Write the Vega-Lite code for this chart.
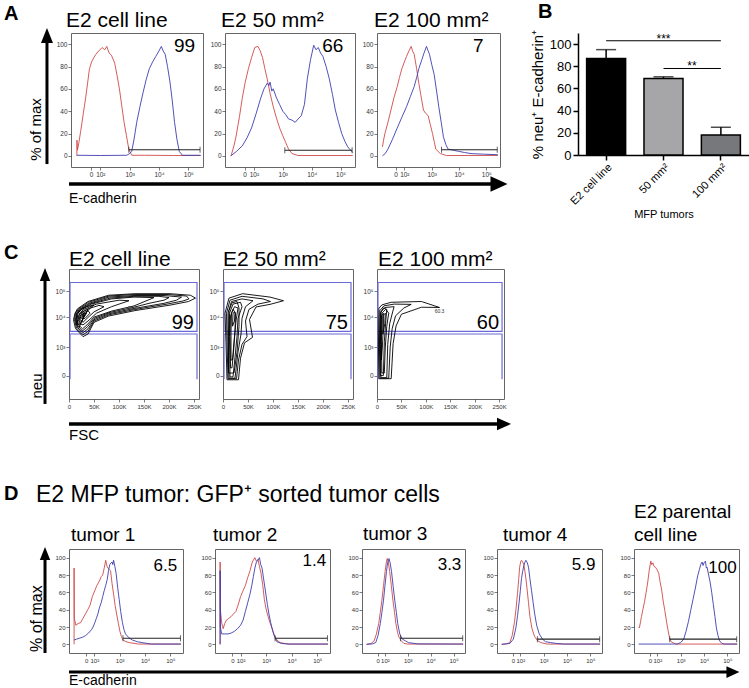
{
"$schema":"https://vega.github.io/schema/vega-lite/v6.json",
"padding":{"top":2,"left":0,"right":0,"bottom":0},
"background":"white",
"config":{
 "font":"Liberation Sans",
 "view":{"stroke":"#666","strokeWidth":1},
 "title":{"font":"Liberation Sans","fontWeight":"normal","color":"#000","fontSize":21,"baseline":"alphabetic","anchor":"start","frame":"group"},
 "axis":{"labelFont":"Liberation Sans","titleFont":"Liberation Sans","grid":false,"labelOverlap":false,"labelSeparation":-100},
 "text":{"font":"Liberation Sans"}
},
"datasets":{
"none":[],
"hist":[
{"p":"A1","c":"r","x":1.2,"y":0},{"p":"A1","c":"r","x":1.202,"y":14},{"p":"A1","c":"r","x":1.22,"y":5},{"p":"A1","c":"r","x":1.27,"y":12},{"p":"A1","c":"r","x":1.33,"y":22},{"p":"A1","c":"r","x":1.42,"y":38},{"p":"A1","c":"r","x":1.5,"y":52},{"p":"A1","c":"r","x":1.57,"y":66},{"p":"A1","c":"r","x":1.63,"y":78},{"p":"A1","c":"r","x":1.7,"y":84},{"p":"A1","c":"r","x":1.78,"y":88},{"p":"A1","c":"r","x":1.85,"y":91},{"p":"A1","c":"r","x":1.95,"y":94},{"p":"A1","c":"r","x":2.06,"y":97},{"p":"A1","c":"r","x":2.15,"y":95},{"p":"A1","c":"r","x":2.22,"y":98},{"p":"A1","c":"r","x":2.3,"y":92},{"p":"A1","c":"r","x":2.38,"y":90},{"p":"A1","c":"r","x":2.49,"y":83},{"p":"A1","c":"r","x":2.57,"y":72},{"p":"A1","c":"r","x":2.65,"y":60},{"p":"A1","c":"r","x":2.73,"y":45},{"p":"A1","c":"r","x":2.81,"y":30},{"p":"A1","c":"r","x":2.89,"y":18},{"p":"A1","c":"r","x":2.97,"y":6},{"p":"A1","c":"r","x":3.07,"y":0.5},{"p":"A1","c":"r","x":3.5,"y":0.5},{"p":"A1","c":"r","x":4.5,"y":0.3},{"p":"A1","c":"r","x":5.42,"y":0.3},
{"p":"A1","c":"b","x":1.2,"y":0.5},{"p":"A1","c":"b","x":2.0,"y":0.3},{"p":"A1","c":"b","x":2.9,"y":0.5},{"p":"A1","c":"b","x":3.0,"y":2},{"p":"A1","c":"b","x":3.07,"y":4},{"p":"A1","c":"b","x":3.15,"y":15},{"p":"A1","c":"b","x":3.24,"y":30},{"p":"A1","c":"b","x":3.35,"y":44},{"p":"A1","c":"b","x":3.46,"y":57},{"p":"A1","c":"b","x":3.56,"y":68},{"p":"A1","c":"b","x":3.67,"y":78},{"p":"A1","c":"b","x":3.78,"y":84},{"p":"A1","c":"b","x":3.89,"y":89},{"p":"A1","c":"b","x":3.98,"y":93},{"p":"A1","c":"b","x":4.08,"y":98},{"p":"A1","c":"b","x":4.14,"y":94},{"p":"A1","c":"b","x":4.21,"y":91},{"p":"A1","c":"b","x":4.29,"y":80},{"p":"A1","c":"b","x":4.37,"y":67},{"p":"A1","c":"b","x":4.45,"y":50},{"p":"A1","c":"b","x":4.53,"y":30},{"p":"A1","c":"b","x":4.61,"y":15},{"p":"A1","c":"b","x":4.69,"y":4},{"p":"A1","c":"b","x":4.8,"y":0.5},{"p":"A1","c":"b","x":5.42,"y":0.5},
{"p":"A2","c":"r","x":1.2,"y":0},{"p":"A2","c":"r","x":1.22,"y":1},{"p":"A2","c":"r","x":1.3,"y":8},{"p":"A2","c":"r","x":1.38,"y":17},{"p":"A2","c":"r","x":1.5,"y":35},{"p":"A2","c":"r","x":1.6,"y":52},{"p":"A2","c":"r","x":1.7,"y":66},{"p":"A2","c":"r","x":1.81,"y":78},{"p":"A2","c":"r","x":1.92,"y":88},{"p":"A2","c":"r","x":2.03,"y":97},{"p":"A2","c":"r","x":2.14,"y":98},{"p":"A2","c":"r","x":2.22,"y":94},{"p":"A2","c":"r","x":2.3,"y":88},{"p":"A2","c":"r","x":2.38,"y":78},{"p":"A2","c":"r","x":2.46,"y":69},{"p":"A2","c":"r","x":2.56,"y":56},{"p":"A2","c":"r","x":2.67,"y":44},{"p":"A2","c":"r","x":2.78,"y":34},{"p":"A2","c":"r","x":2.89,"y":25},{"p":"A2","c":"r","x":3.0,"y":18},{"p":"A2","c":"r","x":3.1,"y":12},{"p":"A2","c":"r","x":3.2,"y":6},{"p":"A2","c":"r","x":3.32,"y":2},{"p":"A2","c":"r","x":3.53,"y":0.3},{"p":"A2","c":"r","x":5.42,"y":0.3},
{"p":"A2","c":"b","x":1.2,"y":0},{"p":"A2","c":"b","x":1.4,"y":4},{"p":"A2","c":"b","x":1.6,"y":9},{"p":"A2","c":"b","x":1.76,"y":16},{"p":"A2","c":"b","x":1.92,"y":25},{"p":"A2","c":"b","x":2.08,"y":38},{"p":"A2","c":"b","x":2.24,"y":52},{"p":"A2","c":"b","x":2.35,"y":60},{"p":"A2","c":"b","x":2.46,"y":65},{"p":"A2","c":"b","x":2.52,"y":63},{"p":"A2","c":"b","x":2.56,"y":66},{"p":"A2","c":"b","x":2.62,"y":58},{"p":"A2","c":"b","x":2.67,"y":60},{"p":"A2","c":"b","x":2.78,"y":52},{"p":"A2","c":"b","x":2.89,"y":46},{"p":"A2","c":"b","x":3.0,"y":40},{"p":"A2","c":"b","x":3.1,"y":37},{"p":"A2","c":"b","x":3.2,"y":33},{"p":"A2","c":"b","x":3.32,"y":32},{"p":"A2","c":"b","x":3.43,"y":30},{"p":"A2","c":"b","x":3.53,"y":33},{"p":"A2","c":"b","x":3.64,"y":36},{"p":"A2","c":"b","x":3.75,"y":46},{"p":"A2","c":"b","x":3.85,"y":69},{"p":"A2","c":"b","x":3.96,"y":86},{"p":"A2","c":"b","x":4.07,"y":99},{"p":"A2","c":"b","x":4.15,"y":95},{"p":"A2","c":"b","x":4.23,"y":97},{"p":"A2","c":"b","x":4.31,"y":92},{"p":"A2","c":"b","x":4.39,"y":89},{"p":"A2","c":"b","x":4.5,"y":80},{"p":"A2","c":"b","x":4.61,"y":69},{"p":"A2","c":"b","x":4.72,"y":55},{"p":"A2","c":"b","x":4.82,"y":41},{"p":"A2","c":"b","x":4.93,"y":30},{"p":"A2","c":"b","x":5.04,"y":20},{"p":"A2","c":"b","x":5.15,"y":13},{"p":"A2","c":"b","x":5.25,"y":8},{"p":"A2","c":"b","x":5.35,"y":5},{"p":"A2","c":"b","x":5.42,"y":3},
{"p":"A3","c":"r","x":1.2,"y":8},{"p":"A3","c":"r","x":1.24,"y":14},{"p":"A3","c":"r","x":1.29,"y":20},{"p":"A3","c":"r","x":1.4,"y":30},{"p":"A3","c":"r","x":1.51,"y":41},{"p":"A3","c":"r","x":1.62,"y":52},{"p":"A3","c":"r","x":1.74,"y":62},{"p":"A3","c":"r","x":1.82,"y":70},{"p":"A3","c":"r","x":1.91,"y":78},{"p":"A3","c":"r","x":2.0,"y":84},{"p":"A3","c":"r","x":2.08,"y":89},{"p":"A3","c":"r","x":2.17,"y":94},{"p":"A3","c":"r","x":2.25,"y":98},{"p":"A3","c":"r","x":2.3,"y":94},{"p":"A3","c":"r","x":2.36,"y":91},{"p":"A3","c":"r","x":2.45,"y":78},{"p":"A3","c":"r","x":2.53,"y":65},{"p":"A3","c":"r","x":2.6,"y":55},{"p":"A3","c":"r","x":2.7,"y":41},{"p":"A3","c":"r","x":2.78,"y":38},{"p":"A3","c":"r","x":2.87,"y":36},{"p":"A3","c":"r","x":2.95,"y":28},{"p":"A3","c":"r","x":3.03,"y":20},{"p":"A3","c":"r","x":3.1,"y":12},{"p":"A3","c":"r","x":3.15,"y":6},{"p":"A3","c":"r","x":3.32,"y":2},{"p":"A3","c":"r","x":3.54,"y":0.3},{"p":"A3","c":"r","x":5.42,"y":0.3},
{"p":"A3","c":"b","x":1.2,"y":0},{"p":"A3","c":"b","x":1.3,"y":2},{"p":"A3","c":"b","x":1.4,"y":6},{"p":"A3","c":"b","x":1.57,"y":15},{"p":"A3","c":"b","x":1.74,"y":25},{"p":"A3","c":"b","x":1.9,"y":34},{"p":"A3","c":"b","x":2.08,"y":44},{"p":"A3","c":"b","x":2.22,"y":53},{"p":"A3","c":"b","x":2.36,"y":62},{"p":"A3","c":"b","x":2.45,"y":70},{"p":"A3","c":"b","x":2.53,"y":78},{"p":"A3","c":"b","x":2.64,"y":86},{"p":"A3","c":"b","x":2.72,"y":92},{"p":"A3","c":"b","x":2.81,"y":98},{"p":"A3","c":"b","x":2.87,"y":94},{"p":"A3","c":"b","x":2.92,"y":91},{"p":"A3","c":"b","x":3.0,"y":82},{"p":"A3","c":"b","x":3.09,"y":73},{"p":"A3","c":"b","x":3.18,"y":58},{"p":"A3","c":"b","x":3.26,"y":44},{"p":"A3","c":"b","x":3.35,"y":30},{"p":"A3","c":"b","x":3.43,"y":17},{"p":"A3","c":"b","x":3.52,"y":10},{"p":"A3","c":"b","x":3.6,"y":6},{"p":"A3","c":"b","x":3.8,"y":5},{"p":"A3","c":"b","x":3.99,"y":4},{"p":"A3","c":"b","x":4.2,"y":3},{"p":"A3","c":"b","x":4.44,"y":2},{"p":"A3","c":"b","x":4.9,"y":1.5},{"p":"A3","c":"b","x":5.42,"y":1},
{"p":"D1","c":"r","x":1.2,"y":0},{"p":"D1","c":"r","x":1.201,"y":88},{"p":"D1","c":"r","x":1.21,"y":30},{"p":"D1","c":"r","x":1.27,"y":22},{"p":"D1","c":"r","x":1.36,"y":24},{"p":"D1","c":"r","x":1.46,"y":25},{"p":"D1","c":"r","x":1.55,"y":30},{"p":"D1","c":"r","x":1.65,"y":35},{"p":"D1","c":"r","x":1.74,"y":40},{"p":"D1","c":"r","x":1.83,"y":45},{"p":"D1","c":"r","x":1.92,"y":55},{"p":"D1","c":"r","x":2.02,"y":62},{"p":"D1","c":"r","x":2.1,"y":68},{"p":"D1","c":"r","x":2.2,"y":73},{"p":"D1","c":"r","x":2.27,"y":78},{"p":"D1","c":"r","x":2.33,"y":80},{"p":"D1","c":"r","x":2.39,"y":88},{"p":"D1","c":"r","x":2.45,"y":97},{"p":"D1","c":"r","x":2.5,"y":90},{"p":"D1","c":"r","x":2.54,"y":88},{"p":"D1","c":"r","x":2.6,"y":86},{"p":"D1","c":"r","x":2.64,"y":85},{"p":"D1","c":"r","x":2.7,"y":70},{"p":"D1","c":"r","x":2.76,"y":58},{"p":"D1","c":"r","x":2.82,"y":45},{"p":"D1","c":"r","x":2.88,"y":35},{"p":"D1","c":"r","x":2.95,"y":24},{"p":"D1","c":"r","x":3.01,"y":15},{"p":"D1","c":"r","x":3.07,"y":9},{"p":"D1","c":"r","x":3.13,"y":5},{"p":"D1","c":"r","x":3.25,"y":3},{"p":"D1","c":"r","x":3.38,"y":2},{"p":"D1","c":"r","x":3.75,"y":0.3},{"p":"D1","c":"r","x":5.42,"y":0.3},
{"p":"D1","c":"b","x":1.2,"y":5},{"p":"D1","c":"b","x":1.3,"y":6},{"p":"D1","c":"b","x":1.4,"y":7},{"p":"D1","c":"b","x":1.52,"y":8},{"p":"D1","c":"b","x":1.65,"y":10},{"p":"D1","c":"b","x":1.77,"y":13},{"p":"D1","c":"b","x":1.89,"y":17},{"p":"D1","c":"b","x":1.95,"y":20},{"p":"D1","c":"b","x":2.02,"y":25},{"p":"D1","c":"b","x":2.08,"y":30},{"p":"D1","c":"b","x":2.14,"y":35},{"p":"D1","c":"b","x":2.2,"y":42},{"p":"D1","c":"b","x":2.27,"y":48},{"p":"D1","c":"b","x":2.33,"y":55},{"p":"D1","c":"b","x":2.39,"y":62},{"p":"D1","c":"b","x":2.45,"y":68},{"p":"D1","c":"b","x":2.51,"y":75},{"p":"D1","c":"b","x":2.56,"y":85},{"p":"D1","c":"b","x":2.61,"y":92},{"p":"D1","c":"b","x":2.66,"y":94},{"p":"D1","c":"b","x":2.7,"y":95},{"p":"D1","c":"b","x":2.73,"y":92},{"p":"D1","c":"b","x":2.76,"y":97},{"p":"D1","c":"b","x":2.81,"y":90},{"p":"D1","c":"b","x":2.86,"y":82},{"p":"D1","c":"b","x":2.92,"y":66},{"p":"D1","c":"b","x":2.98,"y":52},{"p":"D1","c":"b","x":3.04,"y":38},{"p":"D1","c":"b","x":3.11,"y":25},{"p":"D1","c":"b","x":3.17,"y":17},{"p":"D1","c":"b","x":3.23,"y":12},{"p":"D1","c":"b","x":3.35,"y":8},{"p":"D1","c":"b","x":3.5,"y":5},{"p":"D1","c":"b","x":3.7,"y":3},{"p":"D1","c":"b","x":3.88,"y":2},{"p":"D1","c":"b","x":4.25,"y":0.3},{"p":"D1","c":"b","x":5.42,"y":0.3},
{"p":"D2","c":"r","x":1.2,"y":0},{"p":"D2","c":"r","x":1.201,"y":95},{"p":"D2","c":"r","x":1.21,"y":40},{"p":"D2","c":"r","x":1.26,"y":25},{"p":"D2","c":"r","x":1.32,"y":18},{"p":"D2","c":"r","x":1.38,"y":24},{"p":"D2","c":"r","x":1.45,"y":28},{"p":"D2","c":"r","x":1.54,"y":30},{"p":"D2","c":"r","x":1.63,"y":32},{"p":"D2","c":"r","x":1.72,"y":35},{"p":"D2","c":"r","x":1.82,"y":38},{"p":"D2","c":"r","x":1.9,"y":45},{"p":"D2","c":"r","x":2.0,"y":55},{"p":"D2","c":"r","x":2.1,"y":62},{"p":"D2","c":"r","x":2.19,"y":68},{"p":"D2","c":"r","x":2.28,"y":77},{"p":"D2","c":"r","x":2.37,"y":85},{"p":"D2","c":"r","x":2.46,"y":95},{"p":"D2","c":"r","x":2.56,"y":100},{"p":"D2","c":"r","x":2.62,"y":96},{"p":"D2","c":"r","x":2.68,"y":98},{"p":"D2","c":"r","x":2.74,"y":90},{"p":"D2","c":"r","x":2.8,"y":82},{"p":"D2","c":"r","x":2.87,"y":68},{"p":"D2","c":"r","x":2.93,"y":52},{"p":"D2","c":"r","x":2.99,"y":42},{"p":"D2","c":"r","x":3.05,"y":35},{"p":"D2","c":"r","x":3.15,"y":25},{"p":"D2","c":"r","x":3.24,"y":18},{"p":"D2","c":"r","x":3.33,"y":10},{"p":"D2","c":"r","x":3.42,"y":5},{"p":"D2","c":"r","x":3.55,"y":2},{"p":"D2","c":"r","x":3.73,"y":1},{"p":"D2","c":"r","x":3.9,"y":0.3},{"p":"D2","c":"r","x":5.42,"y":0.3},
{"p":"D2","c":"b","x":1.2,"y":0},{"p":"D2","c":"b","x":1.201,"y":85},{"p":"D2","c":"b","x":1.21,"y":20},{"p":"D2","c":"b","x":1.26,"y":12},{"p":"D2","c":"b","x":1.38,"y":12},{"p":"D2","c":"b","x":1.51,"y":12},{"p":"D2","c":"b","x":1.63,"y":13},{"p":"D2","c":"b","x":1.76,"y":15},{"p":"D2","c":"b","x":1.88,"y":18},{"p":"D2","c":"b","x":2.0,"y":22},{"p":"D2","c":"b","x":2.1,"y":28},{"p":"D2","c":"b","x":2.19,"y":38},{"p":"D2","c":"b","x":2.28,"y":48},{"p":"D2","c":"b","x":2.37,"y":58},{"p":"D2","c":"b","x":2.44,"y":68},{"p":"D2","c":"b","x":2.5,"y":78},{"p":"D2","c":"b","x":2.56,"y":88},{"p":"D2","c":"b","x":2.62,"y":95},{"p":"D2","c":"b","x":2.68,"y":97},{"p":"D2","c":"b","x":2.74,"y":100},{"p":"D2","c":"b","x":2.79,"y":92},{"p":"D2","c":"b","x":2.84,"y":88},{"p":"D2","c":"b","x":2.92,"y":72},{"p":"D2","c":"b","x":2.99,"y":58},{"p":"D2","c":"b","x":3.05,"y":46},{"p":"D2","c":"b","x":3.11,"y":35},{"p":"D2","c":"b","x":3.18,"y":25},{"p":"D2","c":"b","x":3.26,"y":15},{"p":"D2","c":"b","x":3.34,"y":8},{"p":"D2","c":"b","x":3.42,"y":3},{"p":"D2","c":"b","x":3.6,"y":1},{"p":"D2","c":"b","x":3.86,"y":0.3},{"p":"D2","c":"b","x":5.42,"y":0.3},
{"p":"D3","c":"r","x":1.2,"y":0},{"p":"D3","c":"r","x":1.4,"y":1},{"p":"D3","c":"r","x":1.53,"y":4},{"p":"D3","c":"r","x":1.63,"y":12},{"p":"D3","c":"r","x":1.73,"y":24},{"p":"D3","c":"r","x":1.8,"y":37},{"p":"D3","c":"r","x":1.87,"y":51},{"p":"D3","c":"r","x":1.94,"y":68},{"p":"D3","c":"r","x":2.01,"y":84},{"p":"D3","c":"r","x":2.06,"y":94},{"p":"D3","c":"r","x":2.1,"y":99},{"p":"D3","c":"r","x":2.15,"y":95},{"p":"D3","c":"r","x":2.21,"y":84},{"p":"D3","c":"r","x":2.28,"y":68},{"p":"D3","c":"r","x":2.35,"y":51},{"p":"D3","c":"r","x":2.42,"y":37},{"p":"D3","c":"r","x":2.48,"y":24},{"p":"D3","c":"r","x":2.55,"y":14},{"p":"D3","c":"r","x":2.62,"y":8},{"p":"D3","c":"r","x":2.72,"y":4},{"p":"D3","c":"r","x":2.83,"y":1},{"p":"D3","c":"r","x":3.0,"y":0.3},{"p":"D3","c":"r","x":5.42,"y":0.3},
{"p":"D3","c":"b","x":1.2,"y":0},{"p":"D3","c":"b","x":1.45,"y":0.5},{"p":"D3","c":"b","x":1.6,"y":2},{"p":"D3","c":"b","x":1.7,"y":10},{"p":"D3","c":"b","x":1.8,"y":24},{"p":"D3","c":"b","x":1.87,"y":37},{"p":"D3","c":"b","x":1.94,"y":51},{"p":"D3","c":"b","x":2.0,"y":67},{"p":"D3","c":"b","x":2.07,"y":84},{"p":"D3","c":"b","x":2.12,"y":94},{"p":"D3","c":"b","x":2.18,"y":99},{"p":"D3","c":"b","x":2.23,"y":94},{"p":"D3","c":"b","x":2.29,"y":84},{"p":"D3","c":"b","x":2.36,"y":67},{"p":"D3","c":"b","x":2.43,"y":51},{"p":"D3","c":"b","x":2.5,"y":37},{"p":"D3","c":"b","x":2.56,"y":24},{"p":"D3","c":"b","x":2.65,"y":12},{"p":"D3","c":"b","x":2.76,"y":6},{"p":"D3","c":"b","x":2.9,"y":4},{"p":"D3","c":"b","x":3.03,"y":2},{"p":"D3","c":"b","x":3.44,"y":0.5},{"p":"D3","c":"b","x":5.42,"y":0.3},
{"p":"D4","c":"r","x":1.2,"y":0},{"p":"D4","c":"r","x":1.4,"y":0.5},{"p":"D4","c":"r","x":1.55,"y":2},{"p":"D4","c":"r","x":1.65,"y":10},{"p":"D4","c":"r","x":1.75,"y":26},{"p":"D4","c":"r","x":1.82,"y":42},{"p":"D4","c":"r","x":1.88,"y":59},{"p":"D4","c":"r","x":1.93,"y":75},{"p":"D4","c":"r","x":1.97,"y":89},{"p":"D4","c":"r","x":2.02,"y":96},{"p":"D4","c":"r","x":2.05,"y":97},{"p":"D4","c":"r","x":2.1,"y":95},{"p":"D4","c":"r","x":2.15,"y":92},{"p":"D4","c":"r","x":2.22,"y":80},{"p":"D4","c":"r","x":2.28,"y":66},{"p":"D4","c":"r","x":2.35,"y":48},{"p":"D4","c":"r","x":2.41,"y":32},{"p":"D4","c":"r","x":2.5,"y":18},{"p":"D4","c":"r","x":2.61,"y":9},{"p":"D4","c":"r","x":2.75,"y":4},{"p":"D4","c":"r","x":2.88,"y":2},{"p":"D4","c":"r","x":3.15,"y":0.3},{"p":"D4","c":"r","x":5.42,"y":0.3},
{"p":"D4","c":"b","x":1.2,"y":0},{"p":"D4","c":"b","x":1.55,"y":1},{"p":"D4","c":"b","x":1.7,"y":6},{"p":"D4","c":"b","x":1.81,"y":19},{"p":"D4","c":"b","x":1.88,"y":33},{"p":"D4","c":"b","x":1.95,"y":49},{"p":"D4","c":"b","x":2.0,"y":62},{"p":"D4","c":"b","x":2.05,"y":76},{"p":"D4","c":"b","x":2.1,"y":84},{"p":"D4","c":"b","x":2.15,"y":91},{"p":"D4","c":"b","x":2.2,"y":95},{"p":"D4","c":"b","x":2.24,"y":97},{"p":"D4","c":"b","x":2.3,"y":94},{"p":"D4","c":"b","x":2.35,"y":89},{"p":"D4","c":"b","x":2.41,"y":76},{"p":"D4","c":"b","x":2.48,"y":62},{"p":"D4","c":"b","x":2.55,"y":48},{"p":"D4","c":"b","x":2.61,"y":36},{"p":"D4","c":"b","x":2.7,"y":22},{"p":"D4","c":"b","x":2.81,"y":12},{"p":"D4","c":"b","x":2.95,"y":6},{"p":"D4","c":"b","x":3.08,"y":3},{"p":"D4","c":"b","x":3.3,"y":2},{"p":"D4","c":"b","x":3.55,"y":1},{"p":"D4","c":"b","x":3.9,"y":0.3},{"p":"D4","c":"b","x":5.42,"y":0.3},
{"p":"D5","c":"r","x":1.2,"y":20},{"p":"D5","c":"r","x":1.23,"y":19},{"p":"D5","c":"r","x":1.28,"y":26},{"p":"D5","c":"r","x":1.32,"y":32},{"p":"D5","c":"r","x":1.38,"y":40},{"p":"D5","c":"r","x":1.45,"y":49},{"p":"D5","c":"r","x":1.52,"y":60},{"p":"D5","c":"r","x":1.59,"y":72},{"p":"D5","c":"r","x":1.65,"y":85},{"p":"D5","c":"r","x":1.72,"y":96},{"p":"D5","c":"r","x":1.76,"y":92},{"p":"D5","c":"r","x":1.81,"y":94},{"p":"D5","c":"r","x":1.86,"y":90},{"p":"D5","c":"r","x":1.92,"y":89},{"p":"D5","c":"r","x":1.99,"y":86},{"p":"D5","c":"r","x":2.06,"y":82},{"p":"D5","c":"r","x":2.12,"y":72},{"p":"D5","c":"r","x":2.19,"y":62},{"p":"D5","c":"r","x":2.25,"y":50},{"p":"D5","c":"r","x":2.32,"y":39},{"p":"D5","c":"r","x":2.39,"y":27},{"p":"D5","c":"r","x":2.46,"y":16},{"p":"D5","c":"r","x":2.52,"y":8},{"p":"D5","c":"r","x":2.59,"y":3},{"p":"D5","c":"r","x":2.79,"y":0.3},{"p":"D5","c":"r","x":5.42,"y":0.3},
{"p":"D5","c":"b","x":1.2,"y":0.3},{"p":"D5","c":"b","x":2.7,"y":0.3},{"p":"D5","c":"b","x":2.86,"y":0.5},{"p":"D5","c":"b","x":3.0,"y":2},{"p":"D5","c":"b","x":3.13,"y":6},{"p":"D5","c":"b","x":3.23,"y":15},{"p":"D5","c":"b","x":3.33,"y":26},{"p":"D5","c":"b","x":3.43,"y":39},{"p":"D5","c":"b","x":3.53,"y":52},{"p":"D5","c":"b","x":3.63,"y":65},{"p":"D5","c":"b","x":3.73,"y":79},{"p":"D5","c":"b","x":3.8,"y":86},{"p":"D5","c":"b","x":3.86,"y":92},{"p":"D5","c":"b","x":3.92,"y":95},{"p":"D5","c":"b","x":3.96,"y":91},{"p":"D5","c":"b","x":4.0,"y":94},{"p":"D5","c":"b","x":4.06,"y":96},{"p":"D5","c":"b","x":4.1,"y":88},{"p":"D5","c":"b","x":4.13,"y":89},{"p":"D5","c":"b","x":4.2,"y":80},{"p":"D5","c":"b","x":4.26,"y":72},{"p":"D5","c":"b","x":4.33,"y":60},{"p":"D5","c":"b","x":4.4,"y":46},{"p":"D5","c":"b","x":4.47,"y":32},{"p":"D5","c":"b","x":4.53,"y":19},{"p":"D5","c":"b","x":4.6,"y":10},{"p":"D5","c":"b","x":4.67,"y":4},{"p":"D5","c":"b","x":4.77,"y":1},{"p":"D5","c":"b","x":4.87,"y":0.3},{"p":"D5","c":"b","x":5.42,"y":0.3}
],
"gates":[
{"p":"A1","x1":2.97,"x2":5.4,"y":5.5},{"p":"A2","x1":3.07,"x2":5.4,"y":5},{"p":"A3","x1":3.36,"x2":5.4,"y":5.5},
{"p":"D1","x1":3.13,"x2":5.4,"y":7},{"p":"D2","x1":3.35,"x2":5.4,"y":7},{"p":"D3","x1":2.68,"x2":5.4,"y":7},{"p":"D4","x1":2.73,"x2":5.4,"y":6},{"p":"D5","x1":2.53,"x2":5.4,"y":6}
],
"nums":[
{"p":"A1","x":5.23,"y":92.9,"t":"99"},{"p":"A2","x":5.1,"y":92.9,"t":"66"},{"p":"A3","x":4.9,"y":92.9,"t":"7"},
{"p":"D1","x":5.27,"y":85,"t":"6.5"},{"p":"D2","x":5.35,"y":90,"t":"1.4"},{"p":"D3","x":5.34,"y":86,"t":"3.3"},{"p":"D4","x":5.22,"y":86,"t":"5.9"},{"p":"D5","x":5.4,"y":82,"t":"100"}
],
"gate2d":[
{"g":"up","x":2,"y":2.6},{"g":"up","x":2,"y":4.48},{"g":"up","x":256,"y":4.48},{"g":"up","x":256,"y":2.6},{"g":"up","x":2,"y":2.6},
{"g":"low","x":2,"y":0.76},{"g":"low","x":2,"y":2.5},{"g":"low","x":256,"y":2.5},{"g":"low","x":256,"y":0.76}
],
"cnums":[{"p":"C1","x":250,"y":2.68,"t":"99"},{"p":"C2","x":250,"y":2.68,"t":"75"},{"p":"C3","x":250,"y":2.68,"t":"60"}],
"csmall":[{"p":"C1","x":118,"y":3.5,"t":"99.5"},{"p":"C3","x":118,"y":3.39,"t":"60.3"}],
"cont":[
{"p":"C1","r":1,"x":9,"y":3.05},{"p":"C1","r":1,"x":12,"y":3.3},{"p":"C1","r":1,"x":17,"y":3.47},{"p":"C1","r":1,"x":38,"y":3.75},{"p":"C1","r":1,"x":79,"y":3.99},{"p":"C1","r":1,"x":132,"y":4.05},{"p":"C1","r":1,"x":202,"y":4.05},{"p":"C1","r":1,"x":243,"y":3.99},{"p":"C1","r":1,"x":253,"y":3.88},{"p":"C1","r":1,"x":239,"y":3.75},{"p":"C1","r":1,"x":202,"y":3.61},{"p":"C1","r":1,"x":132,"y":3.4},{"p":"C1","r":1,"x":79,"y":3.19},{"p":"C1","r":1,"x":50,"y":2.95},{"p":"C1","r":1,"x":38,"y":2.5},{"p":"C1","r":1,"x":28,"y":2.4},{"p":"C1","r":1,"x":13,"y":2.71},{"p":"C1","r":1,"x":9,"y":3.05},
{"p":"C1","r":11,"x":11,"y":3.05},{"p":"C1","r":11,"x":13,"y":3.3},{"p":"C1","r":11,"x":19,"y":3.46},{"p":"C1","r":11,"x":39,"y":3.72},{"p":"C1","r":11,"x":80,"y":3.96},{"p":"C1","r":11,"x":131,"y":4.02},{"p":"C1","r":11,"x":196,"y":4.02},{"p":"C1","r":11,"x":235,"y":3.96},{"p":"C1","r":11,"x":240,"y":3.85},{"p":"C1","r":11,"x":228,"y":3.77},{"p":"C1","r":11,"x":196,"y":3.65},{"p":"C1","r":11,"x":131,"y":3.44},{"p":"C1","r":11,"x":80,"y":3.24},{"p":"C1","r":11,"x":50,"y":3.0},{"p":"C1","r":11,"x":38,"y":2.6},{"p":"C1","r":11,"x":28,"y":2.47},{"p":"C1","r":11,"x":15,"y":2.73},{"p":"C1","r":11,"x":11,"y":3.05},
{"p":"C1","r":2,"x":13,"y":3.05},{"p":"C1","r":2,"x":15,"y":3.3},{"p":"C1","r":2,"x":21,"y":3.45},{"p":"C1","r":2,"x":40,"y":3.68},{"p":"C1","r":2,"x":80,"y":3.92},{"p":"C1","r":2,"x":130,"y":3.98},{"p":"C1","r":2,"x":190,"y":3.98},{"p":"C1","r":2,"x":225,"y":3.92},{"p":"C1","r":2,"x":215,"y":3.8},{"p":"C1","r":2,"x":190,"y":3.68},{"p":"C1","r":2,"x":130,"y":3.48},{"p":"C1","r":2,"x":80,"y":3.28},{"p":"C1","r":2,"x":50,"y":3.05},{"p":"C1","r":2,"x":38,"y":2.7},{"p":"C1","r":2,"x":28,"y":2.55},{"p":"C1","r":2,"x":17,"y":2.75},{"p":"C1","r":2,"x":13,"y":3.05},
{"p":"C1","r":12,"x":14,"y":3.05},{"p":"C1","r":12,"x":16,"y":3.3},{"p":"C1","r":12,"x":23,"y":3.45},{"p":"C1","r":12,"x":42,"y":3.66},{"p":"C1","r":12,"x":82,"y":3.88},{"p":"C1","r":12,"x":130,"y":3.95},{"p":"C1","r":12,"x":180,"y":3.95},{"p":"C1","r":12,"x":200,"y":3.9},{"p":"C1","r":12,"x":190,"y":3.8},{"p":"C1","r":12,"x":160,"y":3.68},{"p":"C1","r":12,"x":130,"y":3.53},{"p":"C1","r":12,"x":82,"y":3.33},{"p":"C1","r":12,"x":50,"y":3.1},{"p":"C1","r":12,"x":37,"y":2.78},{"p":"C1","r":12,"x":27,"y":2.62},{"p":"C1","r":12,"x":18,"y":2.8},{"p":"C1","r":12,"x":14,"y":3.05},
{"p":"C1","r":3,"x":16,"y":3.05},{"p":"C1","r":3,"x":18,"y":3.3},{"p":"C1","r":3,"x":25,"y":3.45},{"p":"C1","r":3,"x":45,"y":3.65},{"p":"C1","r":3,"x":85,"y":3.85},{"p":"C1","r":3,"x":130,"y":3.92},{"p":"C1","r":3,"x":170,"y":3.9},{"p":"C1","r":3,"x":130,"y":3.58},{"p":"C1","r":3,"x":85,"y":3.38},{"p":"C1","r":3,"x":50,"y":3.15},{"p":"C1","r":3,"x":36,"y":2.85},{"p":"C1","r":3,"x":27,"y":2.7},{"p":"C1","r":3,"x":19,"y":2.85},{"p":"C1","r":3,"x":16,"y":3.05},
{"p":"C1","r":4,"x":19,"y":3.05},{"p":"C1","r":4,"x":21,"y":3.3},{"p":"C1","r":4,"x":30,"y":3.45},{"p":"C1","r":4,"x":55,"y":3.65},{"p":"C1","r":4,"x":100,"y":3.8},{"p":"C1","r":4,"x":120,"y":3.78},{"p":"C1","r":4,"x":85,"y":3.55},{"p":"C1","r":4,"x":55,"y":3.3},{"p":"C1","r":4,"x":38,"y":3.0},{"p":"C1","r":4,"x":28,"y":2.85},{"p":"C1","r":4,"x":21,"y":2.9},{"p":"C1","r":4,"x":19,"y":3.05},
{"p":"C1","r":5,"x":22,"y":3.05},{"p":"C1","r":5,"x":25,"y":3.3},{"p":"C1","r":5,"x":35,"y":3.45},{"p":"C1","r":5,"x":60,"y":3.6},{"p":"C1","r":5,"x":70,"y":3.55},{"p":"C1","r":5,"x":50,"y":3.35},{"p":"C1","r":5,"x":36,"y":3.1},{"p":"C1","r":5,"x":28,"y":2.95},{"p":"C1","r":5,"x":22,"y":3.05},
{"p":"C1","r":6,"x":25,"y":3.1},{"p":"C1","r":6,"x":28,"y":3.3},{"p":"C1","r":6,"x":38,"y":3.4},{"p":"C1","r":6,"x":42,"y":3.3},{"p":"C1","r":6,"x":32,"y":3.1},{"p":"C1","r":6,"x":25,"y":3.1},
{"p":"C1","r":7,"x":27,"y":3.15},{"p":"C1","r":7,"x":30,"y":3.28},{"p":"C1","r":7,"x":35,"y":3.3},{"p":"C1","r":7,"x":31,"y":3.17},{"p":"C1","r":7,"x":27,"y":3.15},
{"p":"C1","r":8,"x":14,"y":3.0},{"p":"C1","r":8,"x":16,"y":3.25},{"p":"C1","r":8,"x":22,"y":3.4},{"p":"C1","r":8,"x":35,"y":3.55},{"p":"C1","r":8,"x":50,"y":3.62},{"p":"C1","r":8,"x":40,"y":3.45},{"p":"C1","r":8,"x":32,"y":3.25},{"p":"C1","r":8,"x":25,"y":2.95},{"p":"C1","r":8,"x":20,"y":2.75},{"p":"C1","r":8,"x":15,"y":2.85},{"p":"C1","r":8,"x":14,"y":3.0},
{"p":"C1","r":9,"x":17,"y":3.0},{"p":"C1","r":9,"x":19,"y":3.2},{"p":"C1","r":9,"x":26,"y":3.35},{"p":"C1","r":9,"x":38,"y":3.45},{"p":"C1","r":9,"x":32,"y":3.25},{"p":"C1","r":9,"x":26,"y":3.0},{"p":"C1","r":9,"x":21,"y":2.85},{"p":"C1","r":9,"x":17,"y":2.9},{"p":"C1","r":9,"x":17,"y":3.0},
{"p":"C1","r":10,"x":20,"y":3.0},{"p":"C1","r":10,"x":22,"y":3.2},{"p":"C1","r":10,"x":30,"y":3.3},{"p":"C1","r":10,"x":28,"y":3.1},{"p":"C1","r":10,"x":24,"y":2.95},{"p":"C1","r":10,"x":20,"y":3.0},
{"p":"C2","r":1,"x":8,"y":0.74},{"p":"C2","r":1,"x":6,"y":2.16},{"p":"C2","r":1,"x":4,"y":3.3},{"p":"C2","r":1,"x":12,"y":3.88},{"p":"C2","r":1,"x":39,"y":4.05},{"p":"C2","r":1,"x":94,"y":3.92},{"p":"C2","r":1,"x":121,"y":3.78},{"p":"C2","r":1,"x":94,"y":3.64},{"p":"C2","r":1,"x":66,"y":3.54},{"p":"C2","r":1,"x":53,"y":3.06},{"p":"C2","r":1,"x":59,"y":2.37},{"p":"C2","r":1,"x":43,"y":2.16},{"p":"C2","r":1,"x":35,"y":1.57},{"p":"C2","r":1,"x":31,"y":0.74},{"p":"C2","r":1,"x":8,"y":0.74},
{"p":"C2","r":2,"x":10,"y":0.78},{"p":"C2","r":2,"x":8,"y":2.2},{"p":"C2","r":2,"x":7,"y":3.3},{"p":"C2","r":2,"x":14,"y":3.8},{"p":"C2","r":2,"x":38,"y":3.95},{"p":"C2","r":2,"x":80,"y":3.85},{"p":"C2","r":2,"x":95,"y":3.75},{"p":"C2","r":2,"x":70,"y":3.65},{"p":"C2","r":2,"x":52,"y":3.45},{"p":"C2","r":2,"x":45,"y":3.0},{"p":"C2","r":2,"x":48,"y":2.4},{"p":"C2","r":2,"x":38,"y":2.1},{"p":"C2","r":2,"x":31,"y":1.5},{"p":"C2","r":2,"x":27,"y":0.78},{"p":"C2","r":2,"x":10,"y":0.78},
{"p":"C2","r":3,"x":12,"y":0.8},{"p":"C2","r":3,"x":10,"y":2.3},{"p":"C2","r":3,"x":10,"y":3.3},{"p":"C2","r":3,"x":17,"y":3.75},{"p":"C2","r":3,"x":38,"y":3.85},{"p":"C2","r":3,"x":60,"y":3.78},{"p":"C2","r":3,"x":45,"y":3.55},{"p":"C2","r":3,"x":38,"y":3.1},{"p":"C2","r":3,"x":36,"y":2.5},{"p":"C2","r":3,"x":30,"y":1.8},{"p":"C2","r":3,"x":24,"y":0.8},{"p":"C2","r":3,"x":12,"y":0.8},
{"p":"C2","r":4,"x":14,"y":0.85},{"p":"C2","r":4,"x":13,"y":2.4},{"p":"C2","r":4,"x":13,"y":3.3},{"p":"C2","r":4,"x":20,"y":3.65},{"p":"C2","r":4,"x":35,"y":3.72},{"p":"C2","r":4,"x":38,"y":3.55},{"p":"C2","r":4,"x":30,"y":3.1},{"p":"C2","r":4,"x":28,"y":2.4},{"p":"C2","r":4,"x":24,"y":1.6},{"p":"C2","r":4,"x":20,"y":0.85},{"p":"C2","r":4,"x":14,"y":0.85},
{"p":"C2","r":5,"x":16,"y":1.5},{"p":"C2","r":5,"x":16,"y":2.6},{"p":"C2","r":5,"x":17,"y":3.3},{"p":"C2","r":5,"x":23,"y":3.55},{"p":"C2","r":5,"x":30,"y":3.5},{"p":"C2","r":5,"x":26,"y":3.0},{"p":"C2","r":5,"x":22,"y":2.2},{"p":"C2","r":5,"x":19,"y":1.5},{"p":"C2","r":5,"x":16,"y":1.5},
{"p":"C2","r":6,"x":19,"y":2.8},{"p":"C2","r":6,"x":20,"y":3.3},{"p":"C2","r":6,"x":24,"y":3.35},{"p":"C2","r":6,"x":23,"y":3.0},{"p":"C2","r":6,"x":19,"y":2.8},
{"p":"C2","r":7,"x":11,"y":1.0},{"p":"C2","r":7,"x":11,"y":2.5},{"p":"C2","r":7,"x":12,"y":3.4},{"p":"C2","r":7,"x":18,"y":3.7},{"p":"C2","r":7,"x":28,"y":3.75},{"p":"C2","r":7,"x":32,"y":3.5},{"p":"C2","r":7,"x":32,"y":2.8},{"p":"C2","r":7,"x":28,"y":1.8},{"p":"C2","r":7,"x":22,"y":1.0},{"p":"C2","r":7,"x":11,"y":1.0},
{"p":"C2","r":8,"x":15,"y":1.2},{"p":"C2","r":8,"x":14,"y":2.5},{"p":"C2","r":8,"x":15,"y":3.2},{"p":"C2","r":8,"x":20,"y":3.45},{"p":"C2","r":8,"x":25,"y":3.3},{"p":"C2","r":8,"x":24,"y":2.6},{"p":"C2","r":8,"x":21,"y":1.8},{"p":"C2","r":8,"x":18,"y":1.2},{"p":"C2","r":8,"x":15,"y":1.2},
{"p":"C3","r":1,"x":4,"y":0.78},{"p":"C3","r":1,"x":3,"y":2.0},{"p":"C3","r":1,"x":4,"y":3.49},{"p":"C3","r":1,"x":10,"y":3.62},{"p":"C3","r":1,"x":29,"y":3.72},{"p":"C3","r":1,"x":91,"y":3.75},{"p":"C3","r":1,"x":128,"y":3.52},{"p":"C3","r":1,"x":91,"y":3.53},{"p":"C3","r":1,"x":50,"y":3.26},{"p":"C3","r":1,"x":39,"y":2.81},{"p":"C3","r":1,"x":33,"y":2.13},{"p":"C3","r":1,"x":29,"y":0.78},{"p":"C3","r":1,"x":4,"y":0.78},
{"p":"C3","r":2,"x":6,"y":0.8},{"p":"C3","r":2,"x":5,"y":2.0},{"p":"C3","r":2,"x":6,"y":3.4},{"p":"C3","r":2,"x":14,"y":3.58},{"p":"C3","r":2,"x":35,"y":3.65},{"p":"C3","r":2,"x":70,"y":3.64},{"p":"C3","r":2,"x":55,"y":3.5},{"p":"C3","r":2,"x":38,"y":3.2},{"p":"C3","r":2,"x":31,"y":2.7},{"p":"C3","r":2,"x":27,"y":2.0},{"p":"C3","r":2,"x":24,"y":0.8},{"p":"C3","r":2,"x":6,"y":0.8},
{"p":"C3","r":3,"x":8,"y":0.82},{"p":"C3","r":3,"x":7,"y":2.1},{"p":"C3","r":3,"x":8,"y":3.35},{"p":"C3","r":3,"x":16,"y":3.52},{"p":"C3","r":3,"x":35,"y":3.55},{"p":"C3","r":3,"x":32,"y":3.35},{"p":"C3","r":3,"x":26,"y":2.9},{"p":"C3","r":3,"x":22,"y":2.1},{"p":"C3","r":3,"x":20,"y":0.82},{"p":"C3","r":3,"x":8,"y":0.82},
{"p":"C3","r":4,"x":10,"y":1.0},{"p":"C3","r":4,"x":9,"y":2.2},{"p":"C3","r":4,"x":10,"y":3.3},{"p":"C3","r":4,"x":18,"y":3.45},{"p":"C3","r":4,"x":24,"y":3.3},{"p":"C3","r":4,"x":20,"y":2.8},{"p":"C3","r":4,"x":17,"y":2.0},{"p":"C3","r":4,"x":15,"y":1.0},{"p":"C3","r":4,"x":10,"y":1.0},
{"p":"C3","r":5,"x":12,"y":2.5},{"p":"C3","r":5,"x":12,"y":3.2},{"p":"C3","r":5,"x":17,"y":3.3},{"p":"C3","r":5,"x":16,"y":2.9},{"p":"C3","r":5,"x":12,"y":2.5},
{"p":"C3","r":6,"x":7,"y":0.9},{"p":"C3","r":6,"x":6,"y":2.3},{"p":"C3","r":6,"x":7,"y":3.3},{"p":"C3","r":6,"x":13,"y":3.5},{"p":"C3","r":6,"x":20,"y":3.45},{"p":"C3","r":6,"x":18,"y":3.0},{"p":"C3","r":6,"x":15,"y":2.2},{"p":"C3","r":6,"x":13,"y":0.9},{"p":"C3","r":6,"x":7,"y":0.9},
{"p":"C3","r":7,"x":9,"y":1.5},{"p":"C3","r":7,"x":8,"y":2.5},{"p":"C3","r":7,"x":9,"y":3.2},{"p":"C3","r":7,"x":13,"y":3.3},{"p":"C3","r":7,"x":13,"y":2.8},{"p":"C3","r":7,"x":11,"y":2.0},{"p":"C3","r":7,"x":9,"y":1.5}
]
},
"spacing":22,
"bounds":"full",
"vconcat":[
{"hconcat":[
{"width":56,"height":134,"view":{"stroke":"transparent"},
 "title":{"text":"A","fontWeight":"bold","fontSize":20,"dx":3,"offset":4},
 "layer":[
  {"data":{"values":[{"x":0.821,"x2":0.821,"y":0.022,"y2":0.95}]},"mark":{"type":"rule","strokeWidth":3,"color":"black"},"encoding":{"x":{"field":"x","type":"quantitative","scale":{"domain":[0,1]},"axis":null},"x2":{"field":"x2"},"y":{"field":"y","type":"quantitative","scale":{"domain":[0,1]},"axis":null},"y2":{"field":"y2"}}},
  {"data":{"values":[{"x":1.214,"x2":8.8,"y":-0.127,"y2":-0.127}]},"mark":{"type":"rule","strokeWidth":3.5,"color":"black"},"encoding":{"x":{"field":"x","type":"quantitative"},"x2":{"field":"x2"},"y":{"field":"y","type":"quantitative"},"y2":{"field":"y2"}}},
  {"data":{"values":[{"x":0.821,"y":0.981}]},"mark":{"type":"point","shape":"M-0.8,1L0,-1L0.8,1Z","filled":true,"color":"black","opacity":1,"size":225,"strokeWidth":0},"encoding":{"x":{"field":"x","type":"quantitative"},"y":{"field":"y","type":"quantitative"}}},
  {"data":{"values":[{"x":8.893,"y":-0.127}]},"mark":{"type":"point","shape":"M-1,-0.9L1,0L-1,0.9Z","filled":true,"color":"black","opacity":1,"size":289,"strokeWidth":0},"encoding":{"x":{"field":"x","type":"quantitative"},"y":{"field":"y","type":"quantitative"}}},
  {"data":{"values":[{"x":0.625,"y":0.28,"t":"% of max"}]},"mark":{"type":"text","angle":270,"fontSize":15,"align":"center","baseline":"middle"},"encoding":{"x":{"field":"x","type":"quantitative"},"y":{"field":"y","type":"quantitative"},"text":{"field":"t"}}},
  {"data":{"values":[{"x":1.214,"y":-0.239,"t":"E-cadherin"}]},"mark":{"type":"text","fontSize":14,"align":"left","baseline":"middle"},"encoding":{"x":{"field":"x","type":"quantitative"},"y":{"field":"y","type":"quantitative"},"text":{"field":"t"}}}
 ]},
{"width":14,"height":134,"view":{"stroke":null},"data":{"name":"none"},"mark":"point"},
{"width":132,"height":134,"title":{"text":"E2 cell line","dx":-5,"offset":2},
 "layer":[
  {"data":{"name":"hist"},"transform":[{"filter":"datum.p=='A1'"}],"mark":{"type":"line","strokeWidth":0.9},
   "encoding":{"x":{"field":"x","type":"quantitative","scale":{"domain":[1.2,5.42],"zero":false},"axis":{"values":[1.68,2,3,4,5],"tickCount":50,"labelExpr":"datum.value==1.68?'0':datum.value==2?'10²':datum.value==3?'10³':datum.value==4?'10⁴':'10⁵'","tickSize":3,"labelFontSize":6.5,"labelColor":"#333","tickColor":"#444","tickWidth":0.7,"domain":false,"title":null,"labelPadding":1,"labelOverlap":false,"labelFlush":false}},
    "y":{"field":"y","type":"quantitative","scale":{"domain":[-1,105.5],"zero":false},"axis":{"values":[0,20,40,60,80,100],"tickCount":50,"tickSize":3,"labelFontSize":6.5,"labelColor":"#333","tickColor":"#444","tickWidth":0.7,"domain":false,"title":null,"labelPadding":1,"labelOverlap":false,"labelFlush":false}},
    "color":{"field":"c","type":"nominal","scale":{"domain":["r","b"],"range":["#cf4a4a","#3d3db0"]},"legend":null},"order":{"value":null}}},
  {"data":{"name":"gates"},"transform":[{"filter":"datum.p=='A1'"}],"mark":{"type":"rule","color":"#222","strokeWidth":1.1},"encoding":{"x":{"field":"x1","type":"quantitative"},"x2":{"field":"x2"},"y":{"field":"y","type":"quantitative"}}},
  {"data":{"name":"gates"},"transform":[{"filter":"datum.p=='A1'"}],"mark":{"type":"tick","orient":"vertical","size":6,"thickness":1,"color":"#222"},"encoding":{"x":{"field":"x1","type":"quantitative"},"y":{"field":"y","type":"quantitative"}}},
  {"data":{"name":"gates"},"transform":[{"filter":"datum.p=='A1'"}],"mark":{"type":"tick","orient":"vertical","size":6,"thickness":1,"color":"#222"},"encoding":{"x":{"field":"x2","type":"quantitative"},"y":{"field":"y","type":"quantitative"}}},
  {"data":{"name":"nums"},"transform":[{"filter":"datum.p=='A1'"}],"mark":{"type":"text","align":"right","baseline":"alphabetic","fontSize":19},"encoding":{"x":{"field":"x","type":"quantitative"},"y":{"field":"y","type":"quantitative"},"text":{"field":"t"}}}
 ]},
{"width":22,"height":134,"view":{"stroke":null},"data":{"name":"none"},"mark":"point"},
{"width":130,"height":134,"title":{"text":"E2 50 mm²","dx":-4,"offset":2},
 "layer":[
  {"data":{"name":"hist"},"transform":[{"filter":"datum.p=='A2'"}],"mark":{"type":"line","strokeWidth":0.9},
   "encoding":{"x":{"field":"x","type":"quantitative","scale":{"domain":[1.2,5.42],"zero":false},"axis":{"values":[1.68,2,3,4,5],"tickCount":50,"labelExpr":"datum.value==1.68?'0':datum.value==2?'10²':datum.value==3?'10³':datum.value==4?'10⁴':'10⁵'","tickSize":3,"labelFontSize":6.5,"labelColor":"#333","tickColor":"#444","tickWidth":0.7,"domain":false,"title":null,"labelPadding":1,"labelOverlap":false,"labelFlush":false}},
    "y":{"field":"y","type":"quantitative","scale":{"domain":[-1,105.5],"zero":false},"axis":{"values":[0,20,40,60,80,100],"tickCount":50,"tickSize":3,"labelFontSize":6.5,"labelColor":"#333","tickColor":"#444","tickWidth":0.7,"domain":false,"title":null,"labelPadding":1,"labelOverlap":false,"labelFlush":false}},
    "color":{"field":"c","type":"nominal","scale":{"domain":["r","b"],"range":["#cf4a4a","#3d3db0"]},"legend":null},"order":{"value":null}}},
  {"data":{"name":"gates"},"transform":[{"filter":"datum.p=='A2'"}],"mark":{"type":"rule","color":"#222","strokeWidth":1.1},"encoding":{"x":{"field":"x1","type":"quantitative"},"x2":{"field":"x2"},"y":{"field":"y","type":"quantitative"}}},
  {"data":{"name":"gates"},"transform":[{"filter":"datum.p=='A2'"}],"mark":{"type":"tick","orient":"vertical","size":6,"thickness":1,"color":"#222"},"encoding":{"x":{"field":"x1","type":"quantitative"},"y":{"field":"y","type":"quantitative"}}},
  {"data":{"name":"gates"},"transform":[{"filter":"datum.p=='A2'"}],"mark":{"type":"tick","orient":"vertical","size":6,"thickness":1,"color":"#222"},"encoding":{"x":{"field":"x2","type":"quantitative"},"y":{"field":"y","type":"quantitative"}}},
  {"data":{"name":"nums"},"transform":[{"filter":"datum.p=='A2'"}],"mark":{"type":"text","align":"right","baseline":"alphabetic","fontSize":19},"encoding":{"x":{"field":"x","type":"quantitative"},"y":{"field":"y","type":"quantitative"},"text":{"field":"t"}}}
 ]},
{"width":22,"height":134,"view":{"stroke":null},"data":{"name":"none"},"mark":"point"},
{"width":123,"height":134,"title":{"text":"E2 100 mm²","dx":-3,"offset":2},
 "layer":[
  {"data":{"name":"hist"},"transform":[{"filter":"datum.p=='A3'"}],"mark":{"type":"line","strokeWidth":0.9},
   "encoding":{"x":{"field":"x","type":"quantitative","scale":{"domain":[1.2,5.42],"zero":false},"axis":{"values":[1.68,2,3,4,5],"tickCount":50,"labelExpr":"datum.value==1.68?'0':datum.value==2?'10²':datum.value==3?'10³':datum.value==4?'10⁴':'10⁵'","tickSize":3,"labelFontSize":6.5,"labelColor":"#333","tickColor":"#444","tickWidth":0.7,"domain":false,"title":null,"labelPadding":1,"labelOverlap":false,"labelFlush":false}},
    "y":{"field":"y","type":"quantitative","scale":{"domain":[-1,105.5],"zero":false},"axis":{"values":[0,20,40,60,80,100],"tickCount":50,"tickSize":3,"labelFontSize":6.5,"labelColor":"#333","tickColor":"#444","tickWidth":0.7,"domain":false,"title":null,"labelPadding":1,"labelOverlap":false,"labelFlush":false}},
    "color":{"field":"c","type":"nominal","scale":{"domain":["r","b"],"range":["#cf4a4a","#3d3db0"]},"legend":null},"order":{"value":null}}},
  {"data":{"name":"gates"},"transform":[{"filter":"datum.p=='A3'"}],"mark":{"type":"rule","color":"#222","strokeWidth":1.1},"encoding":{"x":{"field":"x1","type":"quantitative"},"x2":{"field":"x2"},"y":{"field":"y","type":"quantitative"}}},
  {"data":{"name":"gates"},"transform":[{"filter":"datum.p=='A3'"}],"mark":{"type":"tick","orient":"vertical","size":6,"thickness":1,"color":"#222"},"encoding":{"x":{"field":"x1","type":"quantitative"},"y":{"field":"y","type":"quantitative"}}},
  {"data":{"name":"gates"},"transform":[{"filter":"datum.p=='A3'"}],"mark":{"type":"tick","orient":"vertical","size":6,"thickness":1,"color":"#222"},"encoding":{"x":{"field":"x2","type":"quantitative"},"y":{"field":"y","type":"quantitative"}}},
  {"data":{"name":"nums"},"transform":[{"filter":"datum.p=='A3'"}],"mark":{"type":"text","align":"right","baseline":"alphabetic","fontSize":19},"encoding":{"x":{"field":"x","type":"quantitative"},"y":{"field":"y","type":"quantitative"},"text":{"field":"t"}}}
 ]},
{"width":78,"height":134,"view":{"stroke":null},"data":{"name":"none"},"mark":"point"},
{"width":171,"height":122,"view":{"stroke":null},
 "title":{"text":"B","fontWeight":"bold","fontSize":20,"dx":-40,"offset":7},
 "layer":[
  {"data":{"values":[{"g":"E2 cell line","m":87,"e":95},{"g":"50 mm²","m":69,"e":70.5},{"g":"100 mm²","m":18,"e":25}]},
   "layer":[
    {"mark":{"type":"bar","stroke":"black","strokeWidth":1.5},
     "encoding":{"x":{"field":"g","type":"nominal","sort":null,"scale":{"domain":["E2 cell line","50 mm²","100 mm²"],"paddingInner":0.32,"paddingOuter":0.15},"axis":{"title":"MFP tumors","titleFontSize":11,"titleFontWeight":"normal","titleColor":"#000","titlePadding":2,"labelAngle":-45,"labelAlign":"right","labelBaseline":"top","labelFontSize":11,"labelColor":"#000","tickSize":5,"tickWidth":1.5,"tickColor":"#000","domainColor":"#000","domainWidth":1.5,"labelPadding":1,"labelOverlap":false}},
      "y":{"field":"m","type":"quantitative","scale":{"domain":[0,103.4]},"axis":{"values":[0,20,40,60,80,100],"tickCount":50,"title":"% neu⁺ E-cadherin⁺","titleFontSize":15,"titleFontWeight":"normal","titleColor":"#000","titlePadding":4,"labelFontSize":13,"labelColor":"#000","tickSize":5,"tickWidth":1.5,"tickColor":"#000","domainColor":"#000","domainWidth":1.5,"labelPadding":2,"labelOverlap":false}},
      "fill":{"field":"g","type":"nominal","scale":{"domain":["E2 cell line","50 mm²","100 mm²"],"range":["#000000","#a6a6a9","#77787b"]},"legend":null}}},
    {"mark":{"type":"rule","strokeWidth":1.5,"color":"#000"},"encoding":{"x":{"field":"g","type":"nominal"},"y":{"field":"m","type":"quantitative"},"y2":{"field":"e"}}},
    {"mark":{"type":"tick","orient":"horizontal","size":20,"thickness":1.5,"color":"#000"},"encoding":{"x":{"field":"g","type":"nominal"},"y":{"field":"e","type":"quantitative"}}}
   ]},
  {"data":{"values":[{"a":"E2 cell line","b":"100 mm²","y":103,"s":"***","mid":"50 mm²"},{"a":"50 mm²","b":"100 mm²","y":78,"s":"**","mid":"100 mm²"}]},
   "layer":[
    {"mark":{"type":"rule","strokeWidth":1,"color":"#000"},"encoding":{"x":{"field":"a","type":"nominal"},"x2":{"field":"b"},"y":{"field":"y","type":"quantitative"}}},
    {"transform":[{"filter":"datum.s=='***'"}],"mark":{"type":"text","fontSize":12,"baseline":"alphabetic","dy":2},"encoding":{"x":{"field":"mid","type":"nominal"},"y":{"field":"y","type":"quantitative"},"text":{"field":"s"}}},
    {"transform":[{"filter":"datum.s=='**'"}],"mark":{"type":"text","fontSize":12,"baseline":"alphabetic","dy":2,"dx":-29},"encoding":{"x":{"field":"mid","type":"nominal"},"y":{"field":"y","type":"quantitative"},"text":{"field":"s"}}}
   ]}
 ]}
],"spacing":0,"bounds":"flush"},
{"vconcat":[
{"hconcat":[
{"width":56,"height":130,"view":{"stroke":"transparent"},
 "title":{"text":"C","fontWeight":"bold","fontSize":20,"dx":3,"offset":5},
 "layer":[
  {"data":{"values":[{"x":0.786,"x2":0.786,"y":-0.038,"y2":0.93}]},"mark":{"type":"rule","strokeWidth":3,"color":"black"},"encoding":{"x":{"field":"x","type":"quantitative","scale":{"domain":[0,1]},"axis":null},"x2":{"field":"x2"},"y":{"field":"y","type":"quantitative","scale":{"domain":[0,1]},"axis":null},"y2":{"field":"y2"}}},
  {"data":{"values":[{"x":1.214,"x2":8.857,"y":-0.192,"y2":-0.192}]},"mark":{"type":"rule","strokeWidth":3.5,"color":"black"},"encoding":{"x":{"field":"x","type":"quantitative"},"x2":{"field":"x2"},"y":{"field":"y","type":"quantitative"},"y2":{"field":"y2"}}},
  {"data":{"values":[{"x":0.786,"y":0.958}]},"mark":{"type":"point","shape":"M-0.8,1L0,-1L0.8,1Z","filled":true,"color":"black","opacity":1,"size":169,"strokeWidth":0},"encoding":{"x":{"field":"x","type":"quantitative"},"y":{"field":"y","type":"quantitative"}}},
  {"data":{"values":[{"x":8.982,"y":-0.192}]},"mark":{"type":"point","shape":"M-1,-0.9L1,0L-1,0.9Z","filled":true,"color":"black","opacity":1,"size":196,"strokeWidth":0},"encoding":{"x":{"field":"x","type":"quantitative"},"y":{"field":"y","type":"quantitative"}}},
  {"data":{"values":[{"x":0.643,"y":0.1,"t":"neu"}]},"mark":{"type":"text","angle":270,"fontSize":15,"align":"center","baseline":"middle"},"encoding":{"x":{"field":"x","type":"quantitative"},"y":{"field":"y","type":"quantitative"},"text":{"field":"t"}}},
  {"data":{"values":[{"x":1.214,"y":-0.277,"t":"FSC"}]},"mark":{"type":"text","fontSize":15,"align":"left","baseline":"middle"},"encoding":{"x":{"field":"x","type":"quantitative"},"y":{"field":"y","type":"quantitative"},"text":{"field":"t"}}}
 ]},
{"width":12,"height":130,"view":{"stroke":null},"data":{"name":"none"},"mark":"point"},
{"width":130,"height":130,"title":{"text":"E2 cell line","dx":0,"offset":-1},
 "layer":[
  {"data":{"name":"gate2d"},"mark":{"type":"line","color":"#6b6bd8","strokeWidth":1.2},
   "encoding":{"x":{"field":"x","type":"quantitative","scale":{"domain":[0,260],"zero":false},"axis":{"values":[0,50,100,150,200,250],"tickCount":50,"labelExpr":"datum.value==0?'0':datum.value+'K'","tickSize":3,"labelFontSize":6,"labelColor":"#333","tickColor":"#444","tickWidth":0.7,"domain":false,"title":null,"labelPadding":1,"labelOverlap":false,"labelFlush":false}},
    "y":{"field":"y","type":"quantitative","scale":{"domain":[0.08,4.52],"zero":false},"axis":{"values":[0.9,1.99,3.15,4.14],"tickCount":50,"labelExpr":"datum.value==0.9?'0':datum.value==1.99?'10³':datum.value==3.15?'10⁴':'10⁵'","tickSize":3,"labelFontSize":6.5,"labelColor":"#333","tickColor":"#444","tickWidth":0.7,"domain":false,"title":null,"labelPadding":1,"labelOverlap":false,"labelFlush":false}},
    "detail":{"field":"g"},"order":{"value":null}}},
  {"data":{"name":"cont"},"transform":[{"filter":"datum.p=='C1'"}],"mark":{"type":"line","color":"#000","strokeWidth":0.9},"encoding":{"x":{"field":"x","type":"quantitative"},"y":{"field":"y","type":"quantitative"},"detail":{"field":"r"},"order":{"value":null}}},
  {"data":{"name":"csmall"},"transform":[{"filter":"datum.p=='C1'"}],"mark":{"type":"text","align":"left","baseline":"middle","fontSize":5,"color":"#333"},"encoding":{"x":{"field":"x","type":"quantitative"},"y":{"field":"y","type":"quantitative"},"text":{"field":"t"}}},
  {"data":{"name":"cnums"},"transform":[{"filter":"datum.p=='C1'"}],"mark":{"type":"text","align":"right","baseline":"alphabetic","fontSize":20},"encoding":{"x":{"field":"x","type":"quantitative"},"y":{"field":"y","type":"quantitative"},"text":{"field":"t"}}}
 ]},
{"width":24,"height":130,"view":{"stroke":null},"data":{"name":"none"},"mark":"point"},
{"width":130,"height":130,"title":{"text":"E2 50 mm²","dx":0,"offset":-1},
 "layer":[
  {"data":{"name":"gate2d"},"mark":{"type":"line","color":"#6b6bd8","strokeWidth":1.2},
   "encoding":{"x":{"field":"x","type":"quantitative","scale":{"domain":[0,260],"zero":false},"axis":{"values":[0,50,100,150,200,250],"tickCount":50,"labelExpr":"datum.value==0?'0':datum.value+'K'","tickSize":3,"labelFontSize":6,"labelColor":"#333","tickColor":"#444","tickWidth":0.7,"domain":false,"title":null,"labelPadding":1,"labelOverlap":false,"labelFlush":false}},
    "y":{"field":"y","type":"quantitative","scale":{"domain":[0.08,4.52],"zero":false},"axis":{"values":[0.9,1.99,3.15,4.14],"tickCount":50,"labelExpr":"datum.value==0.9?'0':datum.value==1.99?'10³':datum.value==3.15?'10⁴':'10⁵'","tickSize":3,"labelFontSize":6.5,"labelColor":"#333","tickColor":"#444","tickWidth":0.7,"domain":false,"title":null,"labelPadding":1,"labelOverlap":false,"labelFlush":false}},
    "detail":{"field":"g"},"order":{"value":null}}},
  {"data":{"name":"cont"},"transform":[{"filter":"datum.p=='C2'"}],"mark":{"type":"line","color":"#000","strokeWidth":0.9},"encoding":{"x":{"field":"x","type":"quantitative"},"y":{"field":"y","type":"quantitative"},"detail":{"field":"r"},"order":{"value":null}}},
  {"data":{"name":"cnums"},"transform":[{"filter":"datum.p=='C2'"}],"mark":{"type":"text","align":"right","baseline":"alphabetic","fontSize":20},"encoding":{"x":{"field":"x","type":"quantitative"},"y":{"field":"y","type":"quantitative"},"text":{"field":"t"}}}
 ]},
{"width":24,"height":130,"view":{"stroke":null},"data":{"name":"none"},"mark":"point"},
{"width":127,"height":130,"title":{"text":"E2 100 mm²","dx":1,"offset":-1},
 "layer":[
  {"data":{"name":"gate2d"},"mark":{"type":"line","color":"#6b6bd8","strokeWidth":1.2},
   "encoding":{"x":{"field":"x","type":"quantitative","scale":{"domain":[0,260],"zero":false},"axis":{"values":[0,50,100,150,200,250],"tickCount":50,"labelExpr":"datum.value==0?'0':datum.value+'K'","tickSize":3,"labelFontSize":6,"labelColor":"#333","tickColor":"#444","tickWidth":0.7,"domain":false,"title":null,"labelPadding":1,"labelOverlap":false,"labelFlush":false}},
    "y":{"field":"y","type":"quantitative","scale":{"domain":[0.08,4.52],"zero":false},"axis":{"values":[0.9,1.99,3.15,4.14],"tickCount":50,"labelExpr":"datum.value==0.9?'0':datum.value==1.99?'10³':datum.value==3.15?'10⁴':'10⁵'","tickSize":3,"labelFontSize":6.5,"labelColor":"#333","tickColor":"#444","tickWidth":0.7,"domain":false,"title":null,"labelPadding":1,"labelOverlap":false,"labelFlush":false}},
    "detail":{"field":"g"},"order":{"value":null}}},
  {"data":{"name":"cont"},"transform":[{"filter":"datum.p=='C3'"}],"mark":{"type":"line","color":"#000","strokeWidth":0.9},"encoding":{"x":{"field":"x","type":"quantitative"},"y":{"field":"y","type":"quantitative"},"detail":{"field":"r"},"order":{"value":null}}},
  {"data":{"name":"csmall"},"transform":[{"filter":"datum.p=='C3'"}],"mark":{"type":"text","align":"left","baseline":"middle","fontSize":5,"color":"#333"},"encoding":{"x":{"field":"x","type":"quantitative"},"y":{"field":"y","type":"quantitative"},"text":{"field":"t"}}},
  {"data":{"name":"cnums"},"transform":[{"filter":"datum.p=='C3'"}],"mark":{"type":"text","align":"right","baseline":"alphabetic","fontSize":20},"encoding":{"x":{"field":"x","type":"quantitative"},"y":{"field":"y","type":"quantitative"},"text":{"field":"t"}}}
 ]}
],"spacing":0,"bounds":"flush"},
{"hconcat":[
{"width":56,"height":104,"view":{"stroke":"transparent"},
 "layer":[
  {"data":{"values":[{"x":0.786,"x2":0.786,"y":0,"y2":0.93}]},"mark":{"type":"rule","strokeWidth":3,"color":"black"},"encoding":{"x":{"field":"x","type":"quantitative","scale":{"domain":[0,1]},"axis":null},"x2":{"field":"x2"},"y":{"field":"y","type":"quantitative","scale":{"domain":[0,1]},"axis":null},"y2":{"field":"y2"}}},
  {"data":{"values":[{"x":1.214,"x2":13.0,"y":-0.183,"y2":-0.183}]},"mark":{"type":"rule","strokeWidth":3,"color":"black"},"encoding":{"x":{"field":"x","type":"quantitative"},"x2":{"field":"x2"},"y":{"field":"y","type":"quantitative"},"y2":{"field":"y2"}}},
  {"data":{"values":[{"x":0.786,"y":0.957}]},"mark":{"type":"point","shape":"M-0.8,1L0,-1L0.8,1Z","filled":true,"color":"black","opacity":1,"size":169,"strokeWidth":0},"encoding":{"x":{"field":"x","type":"quantitative"},"y":{"field":"y","type":"quantitative"}}},
  {"data":{"values":[{"x":13.07,"y":-0.183}]},"mark":{"type":"point","shape":"M-1,-0.9L1,0L-1,0.9Z","filled":true,"color":"black","opacity":1,"size":169,"strokeWidth":0},"encoding":{"x":{"field":"x","type":"quantitative"},"y":{"field":"y","type":"quantitative"}}},
  {"data":{"values":[{"x":0.643,"y":0.33,"t":"% of max"}]},"mark":{"type":"text","angle":270,"fontSize":16,"align":"center","baseline":"middle"},"encoding":{"x":{"field":"x","type":"quantitative"},"y":{"field":"y","type":"quantitative"},"text":{"field":"t"}}},
  {"data":{"values":[{"x":1.214,"y":-0.27,"t":"E-cadherin"}]},"mark":{"type":"text","fontSize":14,"align":"left","baseline":"middle"},"encoding":{"x":{"field":"x","type":"quantitative"},"y":{"field":"y","type":"quantitative"},"text":{"field":"t"}}},
  {"data":{"values":[{"x":0.625,"y":1.452,"t":"E2 MFP tumor: GFP⁺ sorted tumor cells"}]},"mark":{"type":"text","fontSize":23,"align":"left","baseline":"alphabetic"},"encoding":{"x":{"field":"x","type":"quantitative"},"y":{"field":"y","type":"quantitative"},"text":{"field":"t"}}},
  {"data":{"values":[{"x":0.054,"y":1.471,"t":"D"}]},"mark":{"type":"text","fontSize":20,"fontWeight":"bold","align":"left","baseline":"alphabetic"},"encoding":{"x":{"field":"x","type":"quantitative"},"y":{"field":"y","type":"quantitative"},"text":{"field":"t"}}}
 ]},
{"width":12,"height":104,"view":{"stroke":null},"data":{"name":"none"},"mark":"point"},
{"width":114,"height":104,"title":{"text":"tumor 1","fontSize":19,"dx":2,"offset":4},
 "layer":[
  {"data":{"name":"hist"},"transform":[{"filter":"datum.p=='D1'"}],"mark":{"type":"line","strokeWidth":0.9},
   "encoding":{"x":{"field":"x","type":"quantitative","scale":{"domain":[1.2,5.42],"zero":false},"axis":{"values":[1.68,2,3,4,5],"tickCount":50,"labelExpr":"datum.value==1.68?'0':datum.value==2?'10²':datum.value==3?'10³':datum.value==4?'10⁴':'10⁵'","tickSize":3,"labelFontSize":6,"labelColor":"#333","tickColor":"#444","tickWidth":0.7,"domain":false,"title":null,"labelPadding":1,"labelOverlap":false,"labelFlush":false}},
    "y":{"field":"y","type":"quantitative","scale":{"domain":[-2,104],"zero":false},"axis":{"values":[0,20,40,60,80,100],"tickCount":50,"tickSize":3,"labelFontSize":6,"labelColor":"#333","tickColor":"#444","tickWidth":0.7,"domain":false,"title":null,"labelPadding":1,"labelOverlap":false,"labelFlush":false}},
    "color":{"field":"c","type":"nominal","scale":{"domain":["r","b"],"range":["#cf4a4a","#3d3db0"]},"legend":null},"order":{"value":null}}},
  {"data":{"name":"gates"},"transform":[{"filter":"datum.p=='D1'"}],"mark":{"type":"rule","color":"#222","strokeWidth":1.1},"encoding":{"x":{"field":"x1","type":"quantitative"},"x2":{"field":"x2"},"y":{"field":"y","type":"quantitative"}}},
  {"data":{"name":"gates"},"transform":[{"filter":"datum.p=='D1'"}],"mark":{"type":"tick","orient":"vertical","size":6,"thickness":1,"color":"#222"},"encoding":{"x":{"field":"x1","type":"quantitative"},"y":{"field":"y","type":"quantitative"}}},
  {"data":{"name":"gates"},"transform":[{"filter":"datum.p=='D1'"}],"mark":{"type":"tick","orient":"vertical","size":6,"thickness":1,"color":"#222"},"encoding":{"x":{"field":"x2","type":"quantitative"},"y":{"field":"y","type":"quantitative"}}},
  {"data":{"name":"nums"},"transform":[{"filter":"datum.p=='D1'"}],"mark":{"type":"text","align":"right","baseline":"alphabetic","fontSize":17},"encoding":{"x":{"field":"x","type":"quantitative"},"y":{"field":"y","type":"quantitative"},"text":{"field":"t"}}}
 ]},
{"width":32,"height":104,"view":{"stroke":null},"data":{"name":"none"},"mark":"point"},
{"width":115,"height":104,"title":{"text":"tumor 2","fontSize":19,"dx":-2,"offset":4},
 "layer":[
  {"data":{"name":"hist"},"transform":[{"filter":"datum.p=='D2'"}],"mark":{"type":"line","strokeWidth":0.9},
   "encoding":{"x":{"field":"x","type":"quantitative","scale":{"domain":[1.2,5.42],"zero":false},"axis":{"values":[1.68,2,3,4,5],"tickCount":50,"labelExpr":"datum.value==1.68?'0':datum.value==2?'10²':datum.value==3?'10³':datum.value==4?'10⁴':'10⁵'","tickSize":3,"labelFontSize":6,"labelColor":"#333","tickColor":"#444","tickWidth":0.7,"domain":false,"title":null,"labelPadding":1,"labelOverlap":false,"labelFlush":false}},
    "y":{"field":"y","type":"quantitative","scale":{"domain":[-2,104],"zero":false},"axis":{"values":[0,20,40,60,80,100],"tickCount":50,"tickSize":3,"labelFontSize":6,"labelColor":"#333","tickColor":"#444","tickWidth":0.7,"domain":false,"title":null,"labelPadding":1,"labelOverlap":false,"labelFlush":false}},
    "color":{"field":"c","type":"nominal","scale":{"domain":["r","b"],"range":["#cf4a4a","#3d3db0"]},"legend":null},"order":{"value":null}}},
  {"data":{"name":"gates"},"transform":[{"filter":"datum.p=='D2'"}],"mark":{"type":"rule","color":"#222","strokeWidth":1.1},"encoding":{"x":{"field":"x1","type":"quantitative"},"x2":{"field":"x2"},"y":{"field":"y","type":"quantitative"}}},
  {"data":{"name":"gates"},"transform":[{"filter":"datum.p=='D2'"}],"mark":{"type":"tick","orient":"vertical","size":6,"thickness":1,"color":"#222"},"encoding":{"x":{"field":"x1","type":"quantitative"},"y":{"field":"y","type":"quantitative"}}},
  {"data":{"name":"gates"},"transform":[{"filter":"datum.p=='D2'"}],"mark":{"type":"tick","orient":"vertical","size":6,"thickness":1,"color":"#222"},"encoding":{"x":{"field":"x2","type":"quantitative"},"y":{"field":"y","type":"quantitative"}}},
  {"data":{"name":"nums"},"transform":[{"filter":"datum.p=='D2'"}],"mark":{"type":"text","align":"right","baseline":"alphabetic","fontSize":17},"encoding":{"x":{"field":"x","type":"quantitative"},"y":{"field":"y","type":"quantitative"},"text":{"field":"t"}}}
 ]},
{"width":32,"height":104,"view":{"stroke":null},"data":{"name":"none"},"mark":"point"},
{"width":103,"height":104,"title":{"text":"tumor 3","fontSize":19,"dx":1,"offset":5},
 "layer":[
  {"data":{"name":"hist"},"transform":[{"filter":"datum.p=='D3'"}],"mark":{"type":"line","strokeWidth":0.9},
   "encoding":{"x":{"field":"x","type":"quantitative","scale":{"domain":[1.2,5.42],"zero":false},"axis":{"values":[1.68,2,3,4,5],"tickCount":50,"labelExpr":"datum.value==1.68?'0':datum.value==2?'10²':datum.value==3?'10³':datum.value==4?'10⁴':'10⁵'","tickSize":3,"labelFontSize":6,"labelColor":"#333","tickColor":"#444","tickWidth":0.7,"domain":false,"title":null,"labelPadding":1,"labelOverlap":false,"labelFlush":false}},
    "y":{"field":"y","type":"quantitative","scale":{"domain":[-2,104],"zero":false},"axis":{"values":[0,20,40,60,80,100],"tickCount":50,"tickSize":3,"labelFontSize":6,"labelColor":"#333","tickColor":"#444","tickWidth":0.7,"domain":false,"title":null,"labelPadding":1,"labelOverlap":false,"labelFlush":false}},
    "color":{"field":"c","type":"nominal","scale":{"domain":["r","b"],"range":["#cf4a4a","#3d3db0"]},"legend":null},"order":{"value":null}}},
  {"data":{"name":"gates"},"transform":[{"filter":"datum.p=='D3'"}],"mark":{"type":"rule","color":"#222","strokeWidth":1.1},"encoding":{"x":{"field":"x1","type":"quantitative"},"x2":{"field":"x2"},"y":{"field":"y","type":"quantitative"}}},
  {"data":{"name":"gates"},"transform":[{"filter":"datum.p=='D3'"}],"mark":{"type":"tick","orient":"vertical","size":6,"thickness":1,"color":"#222"},"encoding":{"x":{"field":"x1","type":"quantitative"},"y":{"field":"y","type":"quantitative"}}},
  {"data":{"name":"gates"},"transform":[{"filter":"datum.p=='D3'"}],"mark":{"type":"tick","orient":"vertical","size":6,"thickness":1,"color":"#222"},"encoding":{"x":{"field":"x2","type":"quantitative"},"y":{"field":"y","type":"quantitative"}}},
  {"data":{"name":"nums"},"transform":[{"filter":"datum.p=='D3'"}],"mark":{"type":"text","align":"right","baseline":"alphabetic","fontSize":17},"encoding":{"x":{"field":"x","type":"quantitative"},"y":{"field":"y","type":"quantitative"},"text":{"field":"t"}}}
 ]},
{"width":32,"height":104,"view":{"stroke":null},"data":{"name":"none"},"mark":"point"},
{"width":105,"height":104,"title":{"text":"tumor 4","fontSize":19,"dx":6,"offset":4},
 "layer":[
  {"data":{"name":"hist"},"transform":[{"filter":"datum.p=='D4'"}],"mark":{"type":"line","strokeWidth":0.9},
   "encoding":{"x":{"field":"x","type":"quantitative","scale":{"domain":[1.2,5.42],"zero":false},"axis":{"values":[1.68,2,3,4,5],"tickCount":50,"labelExpr":"datum.value==1.68?'0':datum.value==2?'10²':datum.value==3?'10³':datum.value==4?'10⁴':'10⁵'","tickSize":3,"labelFontSize":6,"labelColor":"#333","tickColor":"#444","tickWidth":0.7,"domain":false,"title":null,"labelPadding":1,"labelOverlap":false,"labelFlush":false}},
    "y":{"field":"y","type":"quantitative","scale":{"domain":[-2,104],"zero":false},"axis":{"values":[0,20,40,60,80,100],"tickCount":50,"tickSize":3,"labelFontSize":6,"labelColor":"#333","tickColor":"#444","tickWidth":0.7,"domain":false,"title":null,"labelPadding":1,"labelOverlap":false,"labelFlush":false}},
    "color":{"field":"c","type":"nominal","scale":{"domain":["r","b"],"range":["#cf4a4a","#3d3db0"]},"legend":null},"order":{"value":null}}},
  {"data":{"name":"gates"},"transform":[{"filter":"datum.p=='D4'"}],"mark":{"type":"rule","color":"#222","strokeWidth":1.1},"encoding":{"x":{"field":"x1","type":"quantitative"},"x2":{"field":"x2"},"y":{"field":"y","type":"quantitative"}}},
  {"data":{"name":"gates"},"transform":[{"filter":"datum.p=='D4'"}],"mark":{"type":"tick","orient":"vertical","size":6,"thickness":1,"color":"#222"},"encoding":{"x":{"field":"x1","type":"quantitative"},"y":{"field":"y","type":"quantitative"}}},
  {"data":{"name":"gates"},"transform":[{"filter":"datum.p=='D4'"}],"mark":{"type":"tick","orient":"vertical","size":6,"thickness":1,"color":"#222"},"encoding":{"x":{"field":"x2","type":"quantitative"},"y":{"field":"y","type":"quantitative"}}},
  {"data":{"name":"nums"},"transform":[{"filter":"datum.p=='D4'"}],"mark":{"type":"text","align":"right","baseline":"alphabetic","fontSize":17},"encoding":{"x":{"field":"x","type":"quantitative"},"y":{"field":"y","type":"quantitative"},"text":{"field":"t"}}}
 ]},
{"width":32,"height":104,"view":{"stroke":null},"data":{"name":"none"},"mark":"point"},
{"width":105,"height":104,"title":{"text":["E2 parental","cell line"],"fontSize":19,"lineHeight":23,"dx":0,"offset":4},
 "layer":[
  {"data":{"name":"hist"},"transform":[{"filter":"datum.p=='D5'"}],"mark":{"type":"line","strokeWidth":0.9},
   "encoding":{"x":{"field":"x","type":"quantitative","scale":{"domain":[1.2,5.42],"zero":false},"axis":{"values":[1.68,2,3,4,5],"tickCount":50,"labelExpr":"datum.value==1.68?'0':datum.value==2?'10²':datum.value==3?'10³':datum.value==4?'10⁴':'10⁵'","tickSize":3,"labelFontSize":6,"labelColor":"#333","tickColor":"#444","tickWidth":0.7,"domain":false,"title":null,"labelPadding":1,"labelOverlap":false,"labelFlush":false}},
    "y":{"field":"y","type":"quantitative","scale":{"domain":[-2,104],"zero":false},"axis":{"values":[0,20,40,60,80,100],"tickCount":50,"tickSize":3,"labelFontSize":6,"labelColor":"#333","tickColor":"#444","tickWidth":0.7,"domain":false,"title":null,"labelPadding":1,"labelOverlap":false,"labelFlush":false}},
    "color":{"field":"c","type":"nominal","scale":{"domain":["r","b"],"range":["#cf4a4a","#3d3db0"]},"legend":null},"order":{"value":null}}},
  {"data":{"name":"gates"},"transform":[{"filter":"datum.p=='D5'"}],"mark":{"type":"rule","color":"#222","strokeWidth":1.1},"encoding":{"x":{"field":"x1","type":"quantitative"},"x2":{"field":"x2"},"y":{"field":"y","type":"quantitative"}}},
  {"data":{"name":"gates"},"transform":[{"filter":"datum.p=='D5'"}],"mark":{"type":"tick","orient":"vertical","size":6,"thickness":1,"color":"#222"},"encoding":{"x":{"field":"x1","type":"quantitative"},"y":{"field":"y","type":"quantitative"}}},
  {"data":{"name":"gates"},"transform":[{"filter":"datum.p=='D5'"}],"mark":{"type":"tick","orient":"vertical","size":6,"thickness":1,"color":"#222"},"encoding":{"x":{"field":"x2","type":"quantitative"},"y":{"field":"y","type":"quantitative"}}},
  {"data":{"name":"nums"},"transform":[{"filter":"datum.p=='D5'"}],"mark":{"type":"text","align":"right","baseline":"alphabetic","fontSize":17},"encoding":{"x":{"field":"x","type":"quantitative"},"y":{"field":"y","type":"quantitative"},"text":{"field":"t"}}}
 ]}
],"spacing":0,"bounds":"flush"}
],"spacing":39,"bounds":"full"}
]
}
